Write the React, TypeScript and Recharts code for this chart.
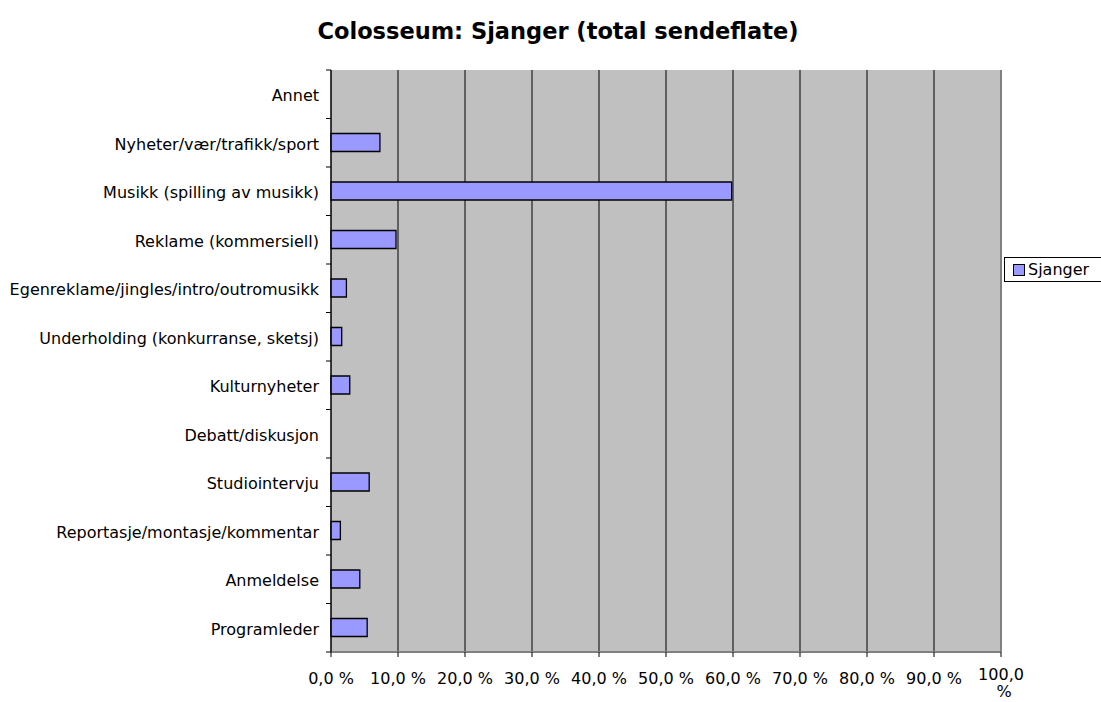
import { BarChart, Bar, XAxis, YAxis, CartesianGrid, ReferenceLine } from 'recharts'

const categories = [
  'Annet',
  'Nyheter/vær/trafikk/sport',
  'Musikk (spilling av musikk)',
  'Reklame (kommersiell)',
  'Egenreklame/jingles/intro/outromusikk',
  'Underholding (konkurranse, sketsj)',
  'Kulturnyheter',
  'Debatt/diskusjon',
  'Studiointervju',
  'Reportasje/montasje/kommentar',
  'Anmeldelse',
  'Programleder',
]
const sjanger = [0, 7.3, 59.8, 9.7, 2.3, 1.6, 2.8, 0, 5.7, 1.4, 4.3, 5.4]
const xTicks = [0, 10, 20, 30, 40, 50, 60, 70, 80, 90, 100]

const data = categories.map((name, i) => ({ name, Sjanger: sjanger[i] }))

const W = 1101
const H = 702
const TOP = 70
const BOTTOM = 50
const AXIS_X = 331
const BAND = (H - TOP - BOTTOM) / categories.length
const FONT = '"DejaVu Sans", Verdana, sans-serif'
const FS = 16

const YTick = ({ y, payload, index }: any) => (
  <g>
    {index === 0 && <line x1={AXIS_X - 5} x2={AXIS_X} y1={y - BAND / 2} y2={y - BAND / 2} stroke="#000" />}
    <line x1={AXIS_X - 5} x2={AXIS_X} y1={y + BAND / 2} y2={y + BAND / 2} stroke="#000" />
    <text x={AXIS_X - 12} y={y} dy={7} textAnchor="end" fontSize={FS} fontFamily={FONT} fill="#000">
      {payload.value}
    </text>
  </g>
)

const XTick = ({ x, y, payload }: any) => {
  const v = payload.value
  if (v === 100) {
    return (
      <text x={x} y={y + 21} textAnchor="middle" fontSize={FS} fontFamily={FONT} fill="#000">
        <tspan x={x}>100,0</tspan>
        <tspan x={x + 3} dy={17}>%</tspan>
      </text>
    )
  }
  return (
    <text x={x} y={y + 25} textAnchor="middle" fontSize={FS} fontFamily={FONT} fill="#000">
      {v.toFixed(1).replace('.', ',')} %
    </text>
  )
}

export default function App() {
  return (
    <div style={{ position: 'absolute', left: 0, top: 0, width: W, height: H, background: '#fff', fontFamily: FONT, overflow: 'hidden' }}>
      <div style={{ position: 'absolute', left: 558, top: 18, transform: 'translateX(-50%)', whiteSpace: 'nowrap', fontSize: 22.5, fontWeight: 'bold', color: '#000' }}>
        Colosseum: Sjanger (total sendeflate)
      </div>
      <BarChart width={W} height={H} data={data} layout="vertical" margin={{ top: TOP, right: 100, bottom: 0, left: 0 }} barCategoryGap={0}>
        <CartesianGrid horizontal={false} vertical stroke="#000" fill="#c0c0c0" fillOpacity={1} />
        <XAxis type="number" domain={[0, 100]} ticks={xTicks} height={BOTTOM} axisLine={{ stroke: '#808080', strokeWidth: 2 }} tickLine={{ stroke: '#000' }} tickSize={5} tick={<XTick />} interval={0} />
        <YAxis type="category" dataKey="name" width={AXIS_X} axisLine={{ stroke: '#000' }} tickLine={false} tick={<YTick />} interval={0} />
        <ReferenceLine x={100} stroke="#808080" strokeWidth={2} />
        <Bar dataKey="Sjanger" fill="#9999ff" stroke="#000" strokeWidth={1.3} barSize={18} isAnimationActive={false} />
      </BarChart>
      <div style={{ position: 'absolute', left: 1004, top: 257, width: 110, height: 23, border: '1px solid #000', background: '#fff', display: 'flex', alignItems: 'center', fontSize: FS, color: '#000' }}>
        <span style={{ display: 'inline-block', width: 10, height: 10, background: '#9999ff', border: '1px solid #000', marginLeft: 8, marginRight: 3 }} />
        Sjanger
      </div>
    </div>
  )
}
